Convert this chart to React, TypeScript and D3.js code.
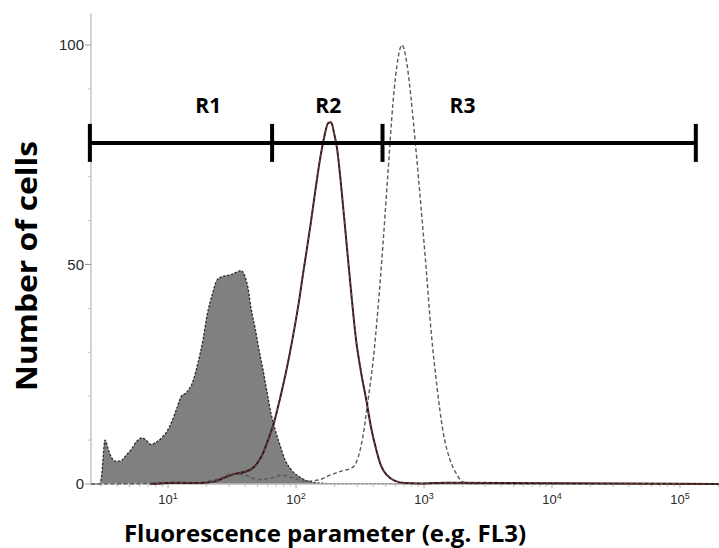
import React from "react";
import * as d3 from "d3";

// ---------- data ----------
const xDomain = [2.5, 200000];
const yDomain = [0, 100];
const yAxisTop = 107.2;

const xTickValues = [10, 100, 1000, 10000, 100000];
const xTickExponents = ["1", "2", "3", "4", "5"];
const yTickValues = [0, 50, 100];
const yMinorValues = [10, 20, 30, 40, 60, 70, 80, 90];

// negative control (filled grey)
const controlX = [2.5, 2.94, 3.03, 3.22, 3.4, 3.59, 3.85, 4.22, 4.7, 5.14, 5.73, 6.27, 6.73, 7.36, 8.06, 8.98, 9.82, 10.7, 11.8, 12.6, 14.1, 15.7, 17.1, 18.8, 20.2, 22.1, 24.2, 26.9, 30.5, 34.0, 37.2, 40.0, 42.2, 44.5, 47.9, 51.4, 55.2, 59.3, 63.8, 68.5, 75.0, 82.0, 91.4, 104, 120, 141, 184, 200000];
const controlY = [0, 0, 2, 10, 8, 6.2, 5.2, 5.2, 6.5, 7.8, 9.8, 10.5, 10.0, 9.0, 9.5, 10.6, 12.0, 14.2, 17.5, 19.8, 21, 23.5, 27.5, 33, 38.5, 43, 46.5, 47.3, 47.6, 48.2, 48.6, 47.2, 44.5, 40, 35.5, 30.5, 26, 21, 16, 12.5, 8.8, 5.5, 3.3, 1.8, 0.8, 0.3, 0.1, 0];

// sample in R2 (solid)
const solidX = [7.23, 12.4, 17.8, 23.3, 27.9, 33.4, 40.0, 45.3, 50.5, 55.2, 60.4, 67.3, 75.0, 83.5, 93.1, 104, 115, 129, 141, 154, 166, 178, 188, 198, 209, 225, 246, 269, 294, 322, 352, 385, 422, 461, 514, 593, 711, 931, 1500, 200000];
const solidY = [0, 0.3, 0.2, 0.6, 1.5, 2.3, 2.8, 3.5, 5.0, 7.0, 10, 14, 19.5, 25.5, 32.5, 40.5, 49, 58.5, 66.5, 74, 79, 82.2, 82.4, 80, 76.5, 68, 56, 44, 33, 25.5, 19.5, 13, 8, 4.2, 2.0, 0.7, 0.2, 0.1, 0.3, 0];

// sample in R3 (dashed)
const dashX = [2.5, 17.8, 21.3, 25.5, 31.6, 40.0, 50.5, 62.6, 77.8, 98.2, 117, 149, 184, 229, 274, 305, 334, 365, 400, 437, 479, 523, 573, 627, 673, 723, 791, 866, 948, 1040, 1135, 1265, 1407, 1597, 1778, 1982, 2288, 200000];
const dashY = [0, 0.3, 0.8, 1.3, 2.4, 2.0, 1.0, 1.3, 2.0, 1.2, 0.6, 0.9, 2.0, 3.0, 3.7, 6, 11, 19, 28, 40, 55, 71, 87, 97, 100, 97, 88, 76, 63, 49, 35, 22, 12, 5.5, 2.5, 0.6, 0.1, 0];

// gates
const gateBounds = [2.45, 65, 474, 133000];
const gateNames = ["R1", "R2", "R3"];
const gateLabelX = [20.6, 178.6, 2000];
const gateLevel = 77.7;

const xTitle = "Fluorescence parameter (e.g. FL3)";
const yTitle = "Number of cells";

// ---------- layout ----------
const W = 719;
const H = 548;
const plotLeft = 91;
const plotRight = 718.5;
const plotBottom = 484;
const y100 = 45;

export default function App() {
  const x = d3.scaleLog().domain(xDomain).range([plotLeft, plotRight]);
  const y = d3.scaleLinear().domain(yDomain).range([plotBottom, y100]);

  const pts = (xs: number[], ys: number[]) => xs.map((v, i) => [v, ys[i]] as [number, number]);

  const line = d3
    .line<[number, number]>()
    .x((d) => x(d[0]))
    .y((d) => y(d[1]))
    .curve(d3.curveMonotoneX);
  const area = d3
    .area<[number, number]>()
    .x((d) => x(d[0]))
    .y0(y(0))
    .y1((d) => y(d[1]))
    .curve(d3.curveMonotoneX);

  const control = pts(controlX, controlY);
  const solid = pts(solidX, solidY);
  const dashed = pts(dashX, dashY);

  // minor x ticks
  const minor: number[] = [];
  for (let e = 0; e <= 5; e++) {
    for (let k = 1; k <= 9; k++) {
      const v = k * Math.pow(10, e);
      if (v >= xDomain[0] && v <= xDomain[1] && k !== 1) minor.push(v);
    }
  }

  const gy = y(gateLevel);

  return (
    <svg
      width={W}
      height={H}
      style={{ position: "absolute", left: 0, top: 0, background: "#fff" }}
      fontFamily="'Open Sans', sans-serif"
    >
      <rect x={0} y={0} width={W} height={H} fill="#fff" />

      {/* grey filled control */}
      <path d={area(control) || ""} fill="#808080" stroke="none" />
      <path d={line(control) || ""} fill="none" stroke="#2a2a2a" strokeWidth={1.3} strokeDasharray="2.5,1.5" />

      {/* axes */}
      <line x1={plotLeft} x2={plotLeft} y1={y(yAxisTop)} y2={plotBottom} stroke="#c4c4c4" strokeWidth={1.5} />
      <line x1={plotLeft} x2={W} y1={plotBottom} y2={plotBottom} stroke="#b8b8b8" strokeWidth={1.5} />

      {minor.map((v, i) => (
        <line key={"mx" + i} x1={x(v)} x2={x(v)} y1={plotBottom} y2={plotBottom + 3} stroke="#bdbdbd" strokeWidth={1} />
      ))}
      {xTickValues.map((v, i) => (
        <g key={"xt" + i}>
          <line x1={x(v)} x2={x(v)} y1={plotBottom} y2={plotBottom + 4} stroke="#a8a8a8" strokeWidth={1} />
          <text
            x={x(v)}
            y={504}
            textAnchor="middle"
            fontSize={13}
            fill="#2a2a2a"
            fontFamily="'Liberation Sans', Arial, sans-serif"
          >
            10
            <tspan fontSize={9} dy={-5.5}>
              {xTickExponents[i]}
            </tspan>
          </text>
        </g>
      ))}

      {yMinorValues.map((v, i) => (
        <line key={"my" + i} x1={plotLeft - 3} x2={plotLeft} y1={y(v)} y2={y(v)} stroke="#c4c4c4" strokeWidth={1} />
      ))}
      {yTickValues.map((v, i) => (
        <g key={"yt" + i}>
          <line x1={plotLeft - 6} x2={plotLeft} y1={y(v)} y2={y(v)} stroke="#9a9a9a" strokeWidth={1} />
          <text
            x={84}
            y={y(v)}
            dy="0.36em"
            textAnchor="end"
            fontSize={15}
            fill="#2a2a2a"
            fontFamily="'Liberation Sans Narrow', 'Arial Narrow', 'Liberation Sans', sans-serif"
          >
            {v}
          </text>
        </g>
      ))}

      {/* dashed sample */}
      <path d={line(dashed) || ""} fill="none" stroke="#5a5a5a" strokeWidth={1.4} strokeDasharray="4,2.5" />

      {/* solid sample */}
      <path d={line(solid) || ""} fill="none" stroke="#2a1c1c" strokeWidth={2} />
      <path d={line(solid) || ""} fill="none" stroke="#c0504d" strokeWidth={0.7} strokeDasharray="3,3" />

      {/* gates */}
      <line x1={x(gateBounds[0])} x2={x(gateBounds[gateBounds.length - 1])} y1={gy} y2={gy} stroke="#000" strokeWidth={4} />
      {gateBounds.map((v, i) => (
        <line key={"gb" + i} x1={x(v)} x2={x(v)} y1={gy - 19} y2={gy + 19} stroke="#000" strokeWidth={4} />
      ))}
      {gateNames.map((n, i) => (
        <text key={"gn" + i} x={x(gateLabelX[i])} y={gy - 30} textAnchor="middle" fontSize={21} fontWeight="bold" fill="#000">
          {n}
        </text>
      ))}

      {/* titles */}
      <text x={325} y={542} textAnchor="middle" fontSize={24} fontWeight="bold" fill="#000">
        {xTitle}
      </text>
      <text
        transform="translate(37,266) rotate(-90)"
        textAnchor="middle"
        fontSize={29}
        fontWeight="bold"
        fill="#000"
        textLength={250}
        lengthAdjust="spacingAndGlyphs"
      >
        {yTitle}
      </text>
    </svg>
  );
}
